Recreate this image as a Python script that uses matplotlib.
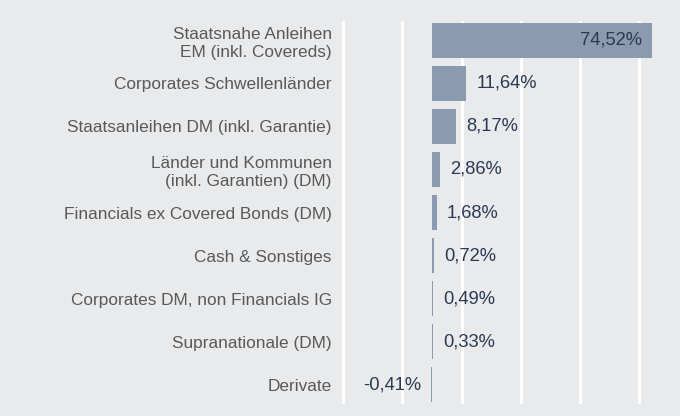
import matplotlib
matplotlib.use("Agg")
from matplotlib import pyplot as plt

# data
categories = [
    "Staatsnahe Anleihen\nEM (inkl. Covereds)",
    "Corporates Schwellenländer",
    "Staatsanleihen DM (inkl. Garantie)",
    "Länder und Kommunen\n(inkl. Garantien) (DM)",
    "Financials ex Covered Bonds (DM)",
    "Cash & Sonstiges",
    "Corporates DM, non Financials IG",
    "Supranationale (DM)",
    "Derivate",
]
values = [74.52, 11.64, 8.17, 2.86, 1.68, 0.72, 0.49, 0.33, -0.41]
grid_ticks = [-30, -10, 10, 30, 50, 70]

BG = "#e9eaec"
BAR = "#8a9bb0"
VALUE_COLOR = "#2b3a52"
LABEL_COLOR = "#595959"

plt.rcParams['font.family'] = ['Liberation Sans', 'DejaVu Sans']

fig = plt.figure(figsize=(6.8, 4.16), dpi=100, facecolor=BG)
# axes in pixel coordinates of a 680x416 figure
left_px, right_px, top_px, bottom_px = 340, 670, 21, 404
ax = fig.add_axes([left_px / 680, 1 - bottom_px / 416,
                   (right_px - left_px) / 680, (bottom_px - top_px) / 416])
ax.set_facecolor(BG)

px_per_pct = 2.952
zero_px = 432
ax.set_xlim((left_px - zero_px) / px_per_pct, (right_px - zero_px) / px_per_pct)
ax.set_ylim(len(values) - 0.55, -0.45)

ax.set_xticks(grid_ticks)
ax.xaxis.grid(True, color="white", linewidth=2.2)
ax.set_axisbelow(True)
ax.tick_params(axis="x", length=0, labelbottom=False)

y = list(range(len(values)))
ax.barh(y, values, height=0.8, color=BAR, zorder=2)

ax.set_yticks(y)
ax.set_yticklabels(categories, fontsize=12.4, color=LABEL_COLOR, linespacing=1.25)
ax.tick_params(axis="y", length=0, pad=6)

for s in ax.spines.values():
    s.set_visible(False)

off = 10 / px_per_pct
for yi, v in zip(y, values):
    txt = f"{v:.2f}%".replace(".", ",")
    if v > 50 or v < 0:
        ax.text(v - off, yi, txt, ha="right", va="center", fontsize=13.2,
                color=VALUE_COLOR, zorder=3)
    else:
        ax.text(v + off, yi, txt, ha="left", va="center", fontsize=13.2,
                color=VALUE_COLOR, zorder=3)

fig.savefig("out.png", dpi=100, facecolor=BG)
